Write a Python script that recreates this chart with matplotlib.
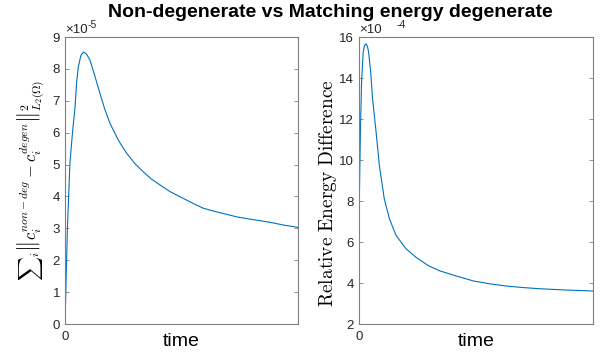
import numpy as np
import matplotlib
matplotlib.use('Agg')
import matplotlib.pyplot as plt

plt.rcParams['font.family'] = ['Liberation Sans', 'DejaVu Sans']
plt.rcParams['mathtext.fontset'] = 'cm'

# left panel: sum of L2 norm differences (units of 1e-5), time normalised 0..1
t_left = [0.0, 0.005, 0.010, 0.021, 0.032, 0.043, 0.050, 0.057, 0.068, 0.079,
          0.092, 0.107, 0.125, 0.150, 0.170, 0.193, 0.230, 0.265, 0.300, 0.336,
          0.370, 0.408, 0.451, 0.494, 0.550, 0.594, 0.660, 0.737, 0.810, 0.880,
          0.940, 1.0]
v_left = [0.0, 1.5, 2.95, 5.04, 6.0, 6.81, 7.6, 8.06, 8.42, 8.53,
          8.47, 8.28, 7.85, 7.23, 6.75, 6.29, 5.75, 5.35, 5.03, 4.77,
          4.55, 4.36, 4.15, 3.99, 3.78, 3.63, 3.50, 3.36, 3.27, 3.19,
          3.10, 3.03]

# right panel: relative energy difference (units of 1e-4)
t_right = [0.0, 0.0015, 0.006, 0.011, 0.018, 0.024, 0.030, 0.036, 0.041,
           0.050, 0.058, 0.073, 0.087, 0.108, 0.130, 0.158, 0.201, 0.242,
           0.296, 0.346, 0.420, 0.489, 0.560, 0.631, 0.700, 0.774, 0.880, 1.0]
v_right = [2.9, 8.11, 11.37, 13.8, 15.27, 15.6, 15.67, 15.55, 15.27,
           14.3, 12.99, 11.37, 9.74, 8.11, 7.14, 6.33, 5.67, 5.27,
           4.85, 4.59, 4.33, 4.10, 3.96, 3.85, 3.78, 3.72, 3.66, 3.61]

blue = '#0072BD'
grey = '#7f7f7f'
txt = '#262626'

fig = plt.figure(figsize=(6.06, 3.52), dpi=100)
ax1 = fig.add_axes([0.1073, 0.0795, 0.3845, 0.8153])
ax2 = fig.add_axes([0.5924, 0.0795, 0.386, 0.8153])

def style(ax, ylim, yticks, expo, expo_x):
    ax.set_xlim(0, 1)
    ax.set_ylim(*ylim)
    ax.set_xticks([0])
    ax.set_yticks(yticks)
    for s in ax.spines.values():
        s.set_color(grey)
        s.set_linewidth(0.8)
    ax.tick_params(direction='in', length=3, width=0.6, color=grey,
                   labelsize=9.5, labelcolor=txt, right=True, top=False)
    ax.tick_params(axis='x', pad=5)
    ax.set_xlabel('time', fontsize=14)
    ax.xaxis.set_label_coords(0.5, -0.03)
    ax.xaxis.label.set_va('top')
    ax.text(0.0, 1.003, '\u00d710', transform=ax.transAxes, fontsize=9.5,
            color=txt, va='bottom', ha='left')
    ax.text(expo_x, 1.042, expo, transform=ax.transAxes, fontsize=7.5,
            color=txt, va='center', ha='left')

ax1.plot(t_left, v_left, color=blue, lw=0.8)
style(ax1, (0, 9), range(0, 10), '-5', 0.098)
ax1.set_ylabel(r'${\sum}_i \left\| c_i^{non-deg} - c_i^{degen} \right\|_{L_2(\Omega)}^2$',
               fontsize=12, labelpad=5)

ax2.plot(t_right, v_right, color=blue, lw=0.8)
style(ax2, (2, 16), range(2, 17, 2), '-4', 0.162)
ax2.set_ylabel(r'$\mathrm{Relative\ Energy\ Difference}$', fontsize=14)
ax2.yaxis.set_label_coords(-0.085, 0.455)

fig.text(0.545, 0.965, 'Non-degenerate vs Matching energy degenerate',
         ha='center', va='center', fontsize=14, fontweight='bold')

fig.savefig('out.png', dpi=100)
